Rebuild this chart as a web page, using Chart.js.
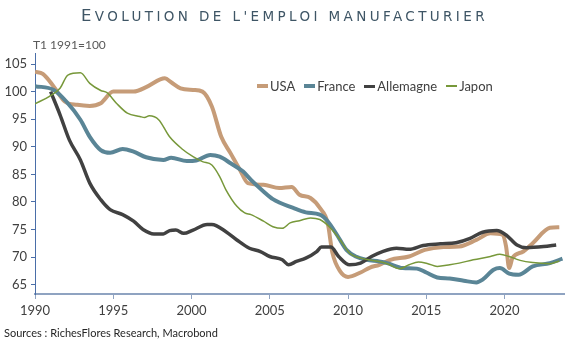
<!DOCTYPE html>
<html>
<head>
<meta charset="utf-8">
<script src="https://cdn.jsdelivr.net/npm/chart.js@4"></script>
<style>
  body { margin: 0; background: #fff; }
  #wrap { position: relative; width: 569px; height: 343px; font-family: Lato, "Open Sans", sans-serif; }
  #title {
    position: absolute; left: 0; top: 6px; width: 569px; text-align: center;
    font-family: "DejaVu Sans", sans-serif; font-size: 13.5px; text-transform: uppercase;
    letter-spacing: 3.4px; color: #3e5565; line-height: 20px;
  }
  #title .cap { font-size: 16.5px; }
  #unit { position: absolute; left: 33px; top: 37px; font-size: 12px; color: #595959; }
  #source { position: absolute; left: 4px; top: 326px; font-size: 11px; color: #262626; }
  #legend { position: absolute; left: 257px; top: 78px; font-size: 13px; color: #404040; display: flex; gap: 9px; }
  #legend span.item { display: flex; align-items: center; }
  #legend span.swatch { display: inline-block; width: 11px; margin-right: 2px; }
  canvas { position: absolute; left: 0; top: 0; }
</style>
</head>
<body>
<div id="wrap">
  <canvas id="empChart" width="569" height="343"></canvas>
  <div id="title"><span class="cap">E</span>volution de l'emploi manufacturier</div>
  <div id="unit">T1 1991=100</div>
  <div id="legend"></div>
  <div id="source">Sources : RichesFlores Research, Macrobond</div>
</div>
<script>
const seriesNames = ['USA', 'France', 'Allemagne', 'Japon'];
const seriesColors = ['#c69c78', '#5a8596', '#414141', '#77983a'];
const seriesWidths = [4, 4, 3.5, 1.5];

const usaYears = [1990.0, 1990.5, 1991.2, 1991.9, 1992.7, 1993.5, 1994.2, 1995.0, 1996.3, 1997.1, 1998.0, 1998.3, 1998.7, 1999.3, 2000.1, 2000.7, 2001.3, 2001.9, 2002.5, 2003.1, 2003.6, 2004.6, 2005.6, 2006.4, 2006.9, 2007.6, 2008.2, 2008.7, 2009.0, 2009.5, 2010.0, 2010.8, 2011.4, 2012.0, 2012.7, 2013.9, 2014.9, 2016.1, 2017.1, 2018.2, 2019.1, 2019.9, 2020.1, 2020.3, 2020.5, 2021.2, 2021.8, 2022.9, 2023.5];
const usaValues = [103.6, 103.2, 100.9, 98.2, 97.6, 97.4, 97.9, 100.0, 100.0, 100.8, 102.2, 102.4, 101.7, 100.6, 100.3, 100.0, 97.3, 91.8, 88.8, 85.8, 83.4, 83.1, 82.5, 82.7, 81.3, 80.7, 78.9, 76.2, 70.8, 67.4, 66.4, 67.2, 68.1, 68.6, 69.5, 70.1, 71.3, 71.8, 71.9, 73.1, 74.3, 74.0, 71.9, 68.0, 69.8, 71.0, 72.5, 75.3, 75.4];

const franceYears = [1990.0, 1991.2, 1992.0, 1992.9, 1993.5, 1994.2, 1994.8, 1995.6, 1996.3, 1997.1, 1998.2, 1998.7, 1999.7, 2000.3, 2001.2, 2001.8, 2002.5, 2003.3, 2003.8, 2004.6, 2005.2, 2006.5, 2007.3, 2008.2, 2008.7, 2009.3, 2009.9, 2010.5, 2011.2, 2012.0, 2012.5, 2013.5, 2014.4, 2015.0, 2015.7, 2016.5, 2017.4, 2018.2, 2018.6, 2019.3, 2019.7, 2020.3, 2020.9, 2021.8, 2022.9, 2023.7];
const franceValues = [101.0, 100.3, 98.2, 94.9, 91.8, 89.4, 88.9, 89.6, 89.1, 88.1, 87.6, 88.0, 87.4, 87.5, 88.5, 88.2, 87.0, 85.5, 84.0, 81.9, 80.5, 78.9, 78.1, 77.7, 76.5, 74.0, 71.3, 70.1, 69.5, 69.2, 68.9, 68.0, 67.9, 67.2, 66.3, 66.1, 65.7, 65.4, 65.9, 67.7, 68.0, 67.0, 66.8, 68.3, 68.9, 69.7];

const germanyYears = [1991.0, 1991.6, 1992.2, 1992.9, 1993.5, 1994.2, 1994.8, 1995.6, 1996.3, 1996.9, 1997.6, 1998.2, 1998.6, 1999.0, 1999.5, 2000.1, 2001.0, 2001.3, 2002.2, 2002.9, 2003.7, 2004.4, 2005.0, 2005.8, 2006.2, 2006.7, 2007.3, 2008.0, 2008.3, 2008.9, 2009.4, 2010.1, 2010.8, 2011.5, 2012.2, 2013.1, 2013.9, 2014.8, 2015.9, 2016.9, 2017.8, 2018.6, 2019.5, 2020.1, 2020.8, 2021.4, 2022.5, 2023.3];
const germanyValues = [100.0, 95.8, 91.2, 87.6, 83.4, 80.4, 78.6, 77.7, 76.5, 75.0, 74.2, 74.2, 74.8, 74.9, 74.3, 74.9, 75.9, 75.9, 74.6, 73.1, 71.6, 71.0, 70.1, 69.5, 68.6, 69.2, 69.8, 71.0, 71.8, 71.8, 70.1, 68.6, 68.9, 70.1, 71.0, 71.6, 71.4, 72.1, 72.4, 72.6, 73.4, 74.5, 74.8, 74.0, 72.2, 71.7, 71.9, 72.2];

const japanYears = [1990.0, 1990.9, 1991.6, 1992.1, 1992.9, 1993.5, 1994.2, 1994.6, 1995.2, 1995.9, 1996.7, 1997.0, 1997.3, 1997.9, 1998.6, 1999.4, 2000.1, 2000.7, 2001.3, 2001.8, 2002.2, 2002.9, 2003.4, 2003.8, 2004.6, 2005.2, 2005.8, 2006.3, 2006.9, 2007.6, 2008.2, 2008.8, 2009.5, 2010.1, 2010.8, 2012.0, 2012.5, 2013.3, 2013.9, 2014.5, 2015.1, 2015.7, 2016.5, 2017.1, 2018.0, 2019.1, 2019.7, 2020.3, 2021.0, 2021.8, 2022.9, 2023.5];
const japanValues = [97.8, 99.1, 100.6, 103.0, 103.4, 101.5, 100.2, 99.8, 97.9, 96.1, 95.5, 95.3, 95.6, 94.9, 91.8, 89.6, 88.2, 87.3, 86.7, 84.6, 82.2, 79.2, 78.0, 77.7, 76.5, 75.5, 75.2, 76.2, 76.6, 77.1, 76.8, 75.5, 73.1, 70.7, 69.8, 69.2, 68.8, 67.9, 68.6, 69.1, 68.8, 68.3, 68.6, 68.9, 69.5, 70.1, 70.5, 70.1, 69.4, 69.0, 68.8, 69.3];

const xTicks = [1990, 1995, 2000, 2005, 2010, 2015, 2020];
const yTicks = [65, 70, 75, 80, 85, 90, 95, 100, 105];

const allYears = [usaYears, franceYears, germanyYears, japanYears];
const allValues = [usaValues, franceValues, germanyValues, japanValues];

function toPoints(xs, ys) {
  return xs.map((x, i) => ({ x: x, y: ys[i] }));
}

const datasets = seriesNames.map((name, i) => ({
  label: name,
  data: toPoints(allYears[i], allValues[i]),
  borderColor: seriesColors[i],
  backgroundColor: seriesColors[i],
  borderWidth: seriesWidths[i],
  pointRadius: 0,
  cubicInterpolationMode: 'monotone',
  order: 4 - i
}));

// legend sits inside the plot, built as html
const legendEl = document.getElementById('legend');
seriesNames.forEach((name, i) => {
  const item = document.createElement('span');
  item.className = 'item';
  const sw = document.createElement('span');
  sw.className = 'swatch';
  sw.style.borderTop = Math.max(2, seriesWidths[i]) + 'px solid ' + seriesColors[i];
  item.appendChild(sw);
  item.appendChild(document.createTextNode(name));
  legendEl.appendChild(item);
});

new Chart(document.getElementById('empChart'), {
  type: 'line',
  data: { datasets: datasets },
  options: {
    responsive: false,
    animation: false,
    layout: { padding: { top: 53, right: 5, bottom: 19, left: 0 } },
    plugins: {
      legend: { display: false },
      tooltip: { enabled: false }
    },
    scales: {
      x: {
        type: 'linear',
        min: 1990,
        max: 2023.8,
        afterBuildTicks: (scale) => { scale.ticks = xTicks.map(v => ({ value: v })); },
        afterFit: (scale) => { scale.height = 30; },
        border: { color: '#8fa3c1', width: 2 },
        grid: { drawOnChartArea: false, tickLength: 5, color: '#8fa3c1' },
        ticks: {
          color: '#404040', font: { family: 'Lato', size: 13 }, padding: 4, maxRotation: 0,
          callback: (v) => String(v)
        }
      },
      y: {
        min: 63.3,
        max: 107,
        afterBuildTicks: (scale) => { scale.ticks = yTicks.map(v => ({ value: v })); },
        afterFit: (scale) => { scale.width = 35; },
        border: { color: '#4a6ea8', width: 1 },
        grid: { drawOnChartArea: false, tickLength: 4, color: '#4a6ea8' },
        ticks: { color: '#404040', font: { family: 'Lato', size: 13 }, padding: 4 }
      }
    }
  }
});
</script>
</body>
</html>
